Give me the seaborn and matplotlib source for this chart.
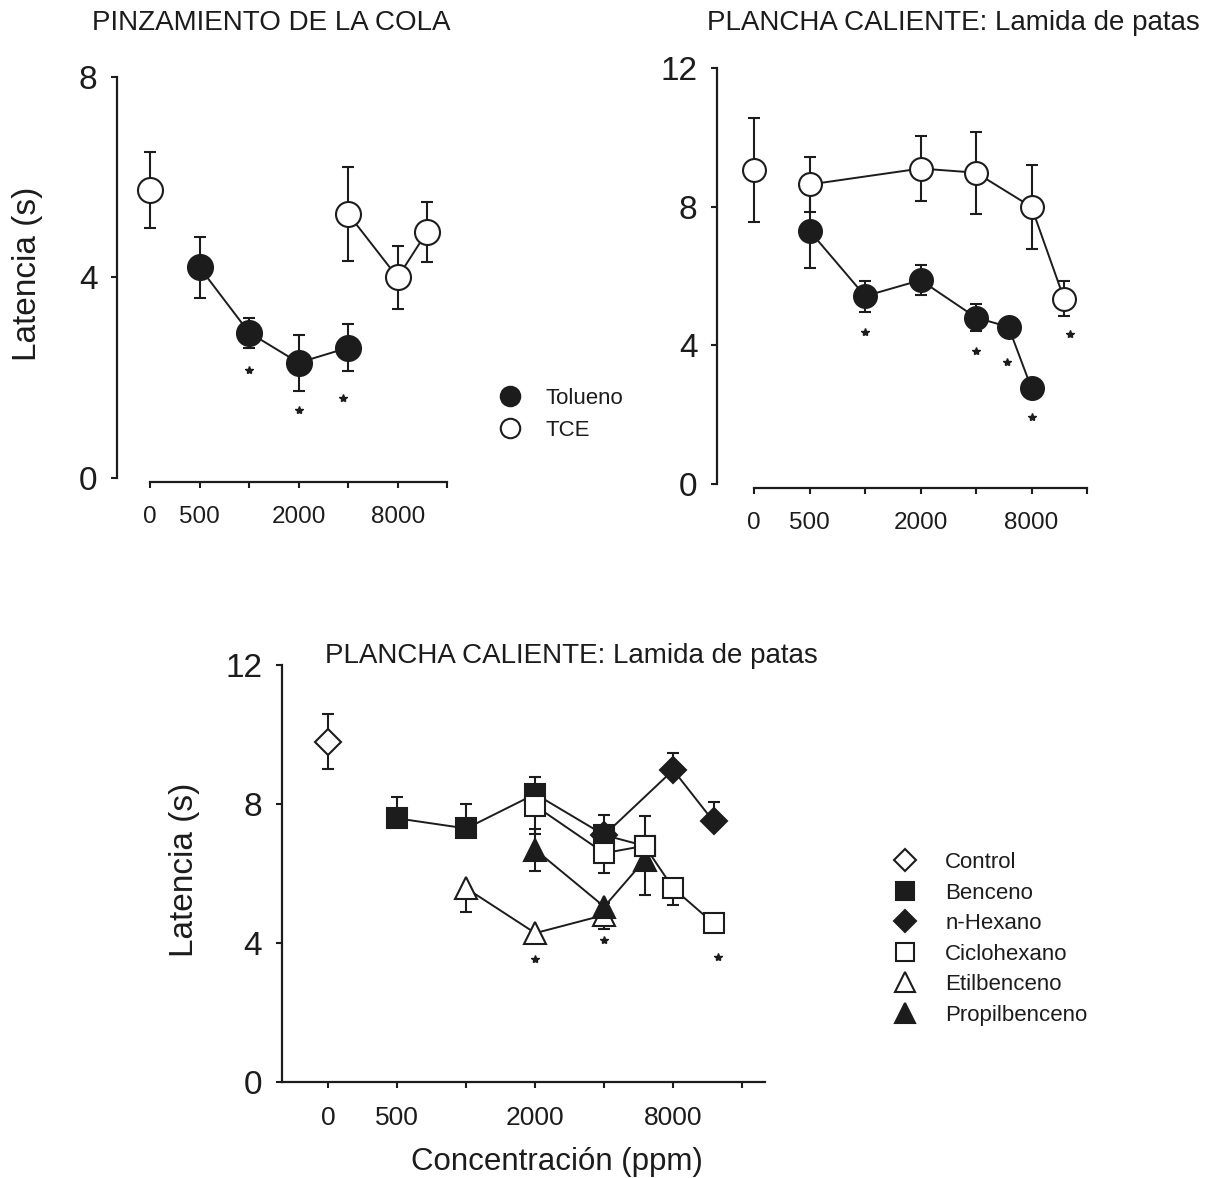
import numpy as np
import pandas as pd
import matplotlib
matplotlib.use("Agg")
import matplotlib.pyplot as plt
from matplotlib.lines import Line2D
import seaborn as sns

# ---------------- data ----------------
tick_conc = [0, 500, 1000, 2000, 4000, 8000, 16000]
tick_labels = ["0", "500", "", "2000", "", "8000", ""]

# Panel A: PINZAMIENTO DE LA COLA
a_tol_conc = [500, 1000, 2000, 4000]
a_tol_mean = [4.2, 2.9, 2.3, 2.6]
a_tol_err = [0.6, 0.3, 0.56, 0.47]
a_tce_conc = [0, 4000, 8000, 12000]
a_tce_mean = [5.75, 5.27, 4.0, 4.9]
a_tce_err = [0.76, 0.94, 0.62, 0.6]
a_star_conc = [1000, 2000, 3700]
a_star_y = [2.15, 1.35, 1.6]

# Panel B: PLANCHA CALIENTE (Tolueno / TCE)
b_tol_conc = [500, 1000, 2000, 4000, 6000, 8000]
b_tol_mean = [7.3, 5.42, 5.88, 4.8, 4.53, 2.76]
b_tol_err = [1.07, 0.45, 0.44, 0.4, 0.12, 0.12]
b_tce_conc = [0, 500, 2000, 4000, 8000, 12000]
b_tce_mean = [9.07, 8.64, 9.1, 8.98, 7.99, 5.35]
b_tce_err = [1.5, 0.8, 0.94, 1.18, 1.22, 0.5]
b_star_conc = [1000, 4000, 5900, 8000, 13000]
b_star_y = [4.39, 3.83, 3.53, 1.94, 4.34]

# Panel C: PLANCHA CALIENTE (otros disolventes)
c_ctl_conc = [0]
c_ctl_mean = [9.8]
c_ctl_lo = [0.8]
c_ctl_hi = [0.8]

c_ben_conc = [500, 1000, 2000, 4000, 6000]
c_ben_mean = [7.59, 7.30, 8.29, 7.11, 6.80]
c_ben_lo = [0, 0, 0, 0, 0]
c_ben_hi = [0.6, 0.7, 0.5, 0.58, 0]

c_hex_conc = [4000, 8000, 12000]
c_hex_mean = [7.11, 8.98, 7.50]
c_hex_lo = [0, 0, 0]
c_hex_hi = [0, 0.5, 0.57]

c_cic_conc = [2000, 4000, 6000, 8000, 12000]
c_cic_mean = [7.95, 6.59, 6.80, 5.58, 4.57]
c_cic_lo = [0.8, 0.58, 0, 0.48, 0.15]
c_cic_hi = [0, 0, 0.87, 0, 0]

c_eti_conc = [1000, 2000, 4000]
c_eti_mean = [5.58, 4.29, 4.81]
c_eti_lo = [0.69, 0.28, 0.41]
c_eti_hi = [0, 0, 0]

c_pro_conc = [2000, 4000, 6000]
c_pro_mean = [6.69, 5.05, 6.39]
c_pro_lo = [0.6, 0.1, 1.0]
c_pro_hi = [0.6, 0.1, 0]

c_star_conc = [2000, 4000, 12600]
c_star_y = [3.54, 4.1, 3.6]

# ---------------- style ----------------
sns.set_theme(style="ticks")
plt.rcParams["font.family"] = ["Liberation Sans", "DejaVu Sans"]
INK = "#1c1c1c"
plt.rcParams.update({
    "axes.edgecolor": INK, "xtick.color": INK, "ytick.color": INK,
    "text.color": INK, "axes.labelcolor": INK,
})


def pos(c):
    c = np.asarray(c, dtype=float)
    return np.where(c > 0, 1 + np.log2(np.where(c > 0, c, 1) / 500.0), 0.0)


def draw_series(ax, conc, mean, lo, hi, marker, filled, ms, lw=1.4, mew=1.5,
                z=3, connect=True):
    x = pos(conc)
    y = np.asarray(mean, float)
    ax.errorbar(x, y, yerr=[lo, hi], fmt="none", ecolor=INK, elinewidth=1.5,
                capsize=4, capthick=1.5, zorder=z - 0.5)
    if connect:
        df = pd.DataFrame({"x": x, "y": y})
        df = df[df["x"] > 0]
        if len(df) > 1:
            sns.lineplot(data=df, x="x", y="y", ax=ax, color=INK, lw=lw,
                         sort=False, zorder=z - 0.3, legend=False)
    ax.plot(x, y, linestyle="none", marker=marker, ms=ms,
            mfc=INK if filled else "white", mec=INK, mew=mew, zorder=z)


def stars(ax, conc, ys):
    ax.plot(pos(conc), ys, linestyle="none", marker="*", ms=6, color=INK,
            zorder=5)


def style_axes(ax, ymax, yticks, xright, xfs, trim=True):
    ax.set_xlim(-0.67, xright)
    ax.set_ylim(0, ymax)
    ax.set_xticks(range(7))
    ax.set_xticklabels(tick_labels)
    ax.set_yticks(yticks)
    ax.set_yticklabels([str(t) for t in yticks])
    sns.despine(ax=ax)
    for s in ("left", "bottom"):
        ax.spines[s].set_linewidth(1.6)
    if trim:
        ax.spines["bottom"].set_bounds(0, 6)
        ax.spines["bottom"].set_position(("outward", 3))
    ax.tick_params(axis="both", direction="out", length=4, width=1.5)
    ax.tick_params(axis="y", labelsize=24, pad=10)
    ax.tick_params(axis="x", labelsize=xfs, pad=13)
    ax.set_xlabel("")
    ax.set_ylabel("")


W, H = 1214, 1178
fig = plt.figure(figsize=(W / 100, H / 100), dpi=100)


def frac_axes(left_px, top_px, right_px, bottom_px):
    return fig.add_axes([left_px / W, 1 - bottom_px / H,
                         (right_px - left_px) / W, (bottom_px - top_px) / H])


# ---- Panel A ----
axA = frac_axes(117, 77, 117 + 49.5 * (6.1 + 0.67), 478)
draw_series(axA, a_tol_conc, a_tol_mean, a_tol_err, a_tol_err, "o", True, 18)
draw_series(axA, a_tce_conc, a_tce_mean, a_tce_err, a_tce_err, "o", False, 18)
stars(axA, a_star_conc, a_star_y)
style_axes(axA, 8, [0, 4, 8], 6.1, 17.5)
axA.set_ylabel("Latencia (s)", fontsize=24)
axA.yaxis.set_label_coords(-0.22, 0.51)
fig.text(92 / W, 1 - 23 / H, "PINZAMIENTO DE LA COLA", fontsize=20,
         ha="left", va="center")

hA = [Line2D([], [], ls="none", marker="o", ms=14, mfc=INK, mec=INK, mew=1.5),
      Line2D([], [], ls="none", marker="o", ms=14, mfc="white", mec=INK, mew=1.5)]
fig.legend(hA, ["Tolueno", "TCE"], loc="upper left",
           bbox_to_anchor=(499 / W, 1 - 388 / H), frameon=False, fontsize=16,
           handlelength=1.0, handletextpad=1.1, labelspacing=0.48,
           borderpad=0, borderaxespad=0)

# ---- Panel B ----
axB = frac_axes(717, 68, 717 + 55.5 * (6.1 + 0.667), 484)
draw_series(axB, b_tol_conc, b_tol_mean, b_tol_err, b_tol_err, "o", True, 16.5)
draw_series(axB, b_tce_conc, b_tce_mean, b_tce_err, b_tce_err, "o", False, 16.5,
            z=4)
stars(axB, b_star_conc, b_star_y)
style_axes(axB, 12, [0, 4, 8, 12], 6.1, 17.5)
fig.text(707 / W, 1 - 23 / H, "PLANCHA CALIENTE: Lamida de patas",
         fontsize=20, ha="left", va="center")

# ---- Panel C ----
axC = frac_axes(281.7, 665, 765, 1082.3)
draw_series(axC, c_ctl_conc, c_ctl_mean, c_ctl_lo, c_ctl_hi, "D", False, 13.5,
            connect=False)
draw_series(axC, c_hex_conc, c_hex_mean, c_hex_lo, c_hex_hi, "D", True, 13, z=3)
draw_series(axC, c_ben_conc, c_ben_mean, c_ben_lo, c_ben_hi, "s", True, 15, z=4)
draw_series(axC, c_eti_conc, c_eti_mean, c_eti_lo, c_eti_hi, "^", False, 16, z=5)
draw_series(axC, c_pro_conc, c_pro_mean, c_pro_lo, c_pro_hi, "^", True, 16, z=6)
draw_series(axC, c_cic_conc, c_cic_mean, c_cic_lo, c_cic_hi, "s", False, 15, z=7)
stars(axC, c_star_conc, c_star_y)
style_axes(axC, 12, [0, 4, 8, 12], 6.33, 19, trim=False)
axC.set_xlim(-0.675, 6.33)
axC.set_ylabel("Latencia (s)", fontsize=24)
axC.yaxis.set_label_coords(-0.17, 0.51)
axC.set_xlabel("Concentración (ppm)", fontsize=22.5)
axC.xaxis.set_label_coords(0.569, -0.155)
fig.text(325 / W, 1 - 656 / H, "PLANCHA CALIENTE: Lamida de patas",
         fontsize=20, ha="left", va="center")

hC = [Line2D([], [], ls="none", marker="D", ms=11, mfc="white", mec=INK, mew=1.5),
      Line2D([], [], ls="none", marker="s", ms=13, mfc=INK, mec=INK, mew=1.5),
      Line2D([], [], ls="none", marker="D", ms=11, mfc=INK, mec=INK, mew=1.5),
      Line2D([], [], ls="none", marker="s", ms=13, mfc="white", mec=INK, mew=1.5),
      Line2D([], [], ls="none", marker="^", ms=14, mfc="white", mec=INK, mew=1.5),
      Line2D([], [], ls="none", marker="^", ms=14, mfc=INK, mec=INK, mew=1.5)]
fig.legend(hC, ["Control", "Benceno", "n-Hexano", "Ciclohexano", "Etilbenceno",
                "Propilbenceno"], loc="upper left",
           bbox_to_anchor=(894 / W, 1 - 852 / H), frameon=False, fontsize=16,
           handlelength=1.0, handletextpad=1.3, labelspacing=0.43,
           borderpad=0, borderaxespad=0)

fig.savefig("out.png", dpi=100)
